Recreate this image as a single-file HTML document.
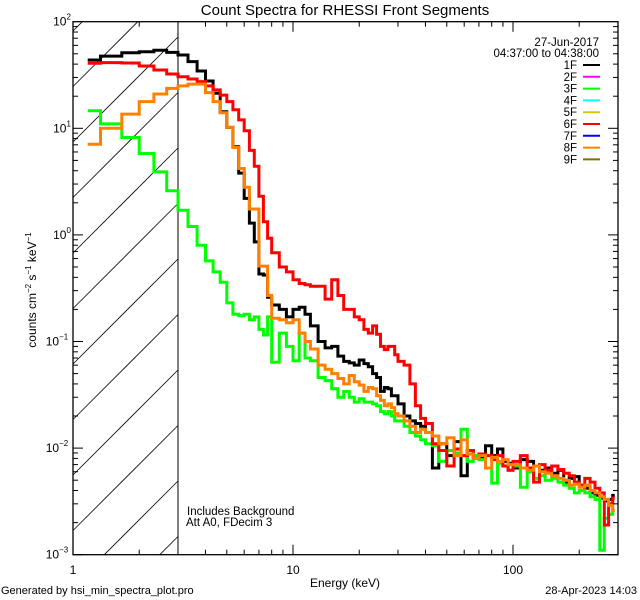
<!DOCTYPE html>
<html><head><meta charset="utf-8"><style>
html,body{margin:0;padding:0;background:#fff;width:640px;height:600px;overflow:hidden;position:relative;}
svg{display:block;position:absolute;left:0;top:0;font-family:"Liberation Sans",sans-serif;}
</style></head><body>
<svg id="chart" width="640" height="600" viewBox="0 0 640 600" xmlns="http://www.w3.org/2000/svg">
<rect width="640" height="600" fill="#fff"/>
<text x="345" y="15" font-size="15" text-anchor="middle">Count Spectra for RHESSI Front Segments</text>
<defs><clipPath id="plotclip"><rect x="73" y="21.7" width="545" height="533"/></clipPath></defs>
<g id="hatch"></g>
<line x1="178" y1="21.7" x2="178" y2="554.7" stroke="#000" stroke-width="1"/>
<g id="series" clip-path="url(#plotclip)"></g>
<rect x="73" y="21.7" width="545" height="533" fill="none" stroke="#000" stroke-width="1.3"/>
<g id="ticks"></g>
<text x="345" y="587" font-size="12" text-anchor="middle">Energy (keV)</text>
<text transform="translate(36,290) rotate(-90)" font-size="12" text-anchor="middle">counts cm<tspan dy="-5" font-size="8">−2</tspan><tspan dy="5"> s</tspan><tspan dy="-5" font-size="8">−1</tspan><tspan dy="5"> keV</tspan><tspan dy="-5" font-size="8">−1</tspan></text>
<text x="599" y="46" font-size="11.5" text-anchor="end">27-Jun-2017</text>
<text x="599" y="57" font-size="11.5" text-anchor="end">04:37:00 to 04:38:00</text>
<g id="legend"></g>
<text x="187" y="515" font-size="11.5">Includes Background</text>
<text x="186" y="526" font-size="11.5">Att A0, FDecim 3</text>
<text x="1" y="594" font-size="11">Generated by hsi_min_spectra_plot.pro</text>
<text x="637" y="594" font-size="11" text-anchor="end">28-Apr-2023 14:03</text>
</svg>
<script>
const energies = [1.0,1.333,1.667,2.0,2.333,2.667,3.0,3.333,3.667,4.0,4.333,4.667,5.0,5.333,5.667,6.0,6.333,6.667,7.0,7.333,7.667,
 8.0,8.667,9.333,10,10.667,11.333,
 12,13,14,15,16,17,18,19,20,21,22,23,24,25,26,27,28,29,30,32,34,36,38,
 40,43,46,50,54,58,62,66,70,75,80,85,90,95,
 100,108,116,124,132,140,150,160,170,180,190,200,212,224,236,248,260,272,284];
const upperEdge = 296;
const seg1F = [43.7,47.6,51.2,52.3,54,51.5,48.7,42.2,34.5,27.8,21.3,14.3,10.2,6.7,3.8,2.2,1.29,0.86,0.43,0.42,0.26,
 0.22,0.2,0.17,0.2,0.21,0.18,
 0.14,0.10,0.087,0.09,0.073,0.065,0.063,0.06,0.067,0.062,0.058,0.05,0.046,0.034,0.037,0.036,0.031,0.031,0.026,0.02,0.018,0.017,0.016,
 0.014,0.0065,0.011,0.0085,0.0115,0.0055,0.0095,0.0082,0.0082,0.0105,0.0085,0.0098,0.0075,0.0072,
 0.0065,0.0078,0.0075,0.0068,0.0062,0.0065,0.0058,0.0062,0.0048,0.0052,0.0054,0.0045,0.0042,0.0038,0.0036,0.0034,0.0032,0.0033,0.0036];
const seg3F = [14.6,11,8.2,5.8,3.9,2.6,1.7,1.2,0.8,0.57,0.45,0.36,0.23,0.18,0.175,0.18,0.16,0.17,0.13,0.115,0.17,
 0.064,0.12,0.09,0.066,0.12,0.07,
 0.066,0.046,0.043,0.036,0.03,0.034,0.03,0.027,0.029,0.027,0.027,0.026,0.025,0.022,0.021,0.022,0.02,0.018,0.018,0.016,0.014,0.013,0.012,
 0.011,0.0105,0.0075,0.0095,0.009,0.015,0.0075,0.0085,0.0078,0.0065,0.0047,0.0072,0.0068,0.0062,
 0.0068,0.0043,0.006,0.0052,0.0055,0.005,0.0052,0.0048,0.0045,0.0042,0.0038,0.004,0.0038,0.0035,0.0033,0.0011,0.0022,0.0024,0.0026];
const seg6F = [40.7,41.3,41,38.4,35.2,32.3,30.5,29,27.4,25,22.9,20.5,17.8,14.9,12,9.5,6.2,4.4,2.3,1.33,0.93,
 0.68,0.5,0.45,0.38,0.35,0.34,
 0.33,0.33,0.25,0.38,0.27,0.2,0.2,0.17,0.16,0.13,0.12,0.14,0.117,0.09,0.084,0.09,0.09,0.075,0.065,0.06,0.04,0.025,0.019,
 0.017,0.011,0.0095,0.0068,0.0098,0.0085,0.0095,0.008,0.0088,0.0085,0.0078,0.0085,0.0068,0.0062,
 0.0075,0.0085,0.0065,0.0048,0.007,0.0062,0.0068,0.0063,0.0058,0.0055,0.0048,0.0045,0.0052,0.0048,0.0042,0.0038,0.0019,0.003,0.0034];
const seg8F = [7.1,10,13.6,17.8,21,23.7,25,26,26,21.6,17.8,14,10.2,6.6,4.2,2.8,1.75,1.75,0.51,0.51,0.27,
 0.165,0.16,0.15,0.16,0.12,0.1,
 0.085,0.06,0.055,0.05,0.045,0.04,0.048,0.042,0.039,0.034,0.037,0.036,0.031,0.028,0.025,0.026,0.024,0.021,0.02,0.018,0.016,0.014,0.015,
 0.014,0.013,0.011,0.0125,0.0085,0.012,0.0088,0.008,0.0085,0.0065,0.0082,0.0075,0.0078,0.007,
 0.007,0.0065,0.0062,0.0068,0.006,0.0058,0.0055,0.0052,0.005,0.0045,0.0046,0.0043,0.0045,0.004,0.0038,0.0035,0.0033,0.0029,0.0026];
const legendLabels = ["1F","2F","3F","4F","5F","6F","7F","8F","9F"];
const legendColors = ["#000000","#ff00ff","#00ff00","#00ffff","#d8c800","#ff0000","#0000ff","#ff8000","#7f7000"];
const xTickValues = [1,10,100];
const xTickLabels = ["1","10","100"];
const yTickExps = [2,1,0,-1,-2,-3];

const NS = "http://www.w3.org/2000/svg";
const X0 = 73, XD = 220, YT = 21.7, YD = 106.6, YB = 554.7, XR = 618;
function xs(e){ return X0 + XD*Math.log10(e); }
function ys(v){ return YT + (2 - Math.log10(v))*YD; }
function mk(tag, attrs, parent){ const el=document.createElementNS(NS,tag); for(const k in attrs) el.setAttribute(k,attrs[k]); parent.appendChild(el); return el; }

// hatch lines, clipped analytically to the hatched rectangle
const hatch = document.getElementById('hatch');
const HX0 = 73, HX1 = 178;
for(let k=-3;k<12;k++){
  const c = 37 + k*55.5;           // y at x=HX1 ; line: y = c + (HX1 - x)
  let xa = HX0, ya = c + (HX1 - HX0);
  let xb = HX1, yb = c;
  if(ya > YB){ xa = HX1 - (YB - c); ya = YB; }
  if(yb < YT){ xb = HX1 - (YT - c); yb = YT; }
  if(xa >= xb) continue;
  const l = mk('line',{x1:xa.toFixed(1),y1:ya.toFixed(1),x2:xb.toFixed(1),y2:yb.toFixed(1),stroke:'#000','stroke-width':0.8},hatch);
  
  
}

const sg = document.getElementById('series');
function drawStep(vals, color, name){
  let d = "";
  for(let i=0;i<vals.length;i++){
    const lo = energies[i], hi = (i+1<energies.length)?energies[i+1]:upperEdge;
    const y = ys(vals[i]);
    const xa = (i===0) ? xs((lo+hi)/2) : xs(lo);
    const xb = (i===vals.length-1) ? xs((lo+hi)/2) : xs(hi);
    d += (i===0 ? "M"+xa.toFixed(1)+","+y.toFixed(1) : "L"+xa.toFixed(1)+","+y.toFixed(1)) + "L"+xb.toFixed(1)+","+y.toFixed(1);
  }
  const p = mk('path',{d:d,fill:'none',stroke:color,'stroke-width':3,'stroke-linejoin':'miter'},sg);
  
  
}
drawStep(seg1F,"#000000","series-1f");
drawStep(seg3F,"#00ff00","series-3f");
drawStep(seg6F,"#ff0000","series-6f");
drawStep(seg8F,"#ff8000","series-8f");

const tg = document.getElementById('ticks');
for(let dec=0; dec<3; dec++){
  for(let m=1;m<=9;m++){
    const e = m*Math.pow(10,dec);
    const x = xs(e); if(x>XR+0.5) continue;
    const len = (m===1)?10:5;
    const t1 = mk('line',{x1:x,y1:YB,x2:x,y2:YB-len,stroke:'#000','stroke-width':1},tg);
    
    
    const t2 = mk('line',{x1:x,y1:YT,x2:x,y2:YT+len,stroke:'#000','stroke-width':1},tg);
    
    
  }
}
xTickValues.forEach((v,i)=>{
  const t = mk('text',{x:xs(v),y:574,'font-size':12,'text-anchor':'middle'},tg);
  t.textContent = xTickLabels[i];
  
  
});
for(let ex=-3; ex<2; ex++){
  for(let m=1;m<=9;m++){
    const v = m*Math.pow(10,ex);
    const y = ys(v);
    const len = (m===1)?10:5;
    const a = mk('line',{x1:X0,y1:y,x2:X0+len,y2:y,stroke:'#000','stroke-width':1},tg);
    
    
    const b = mk('line',{x1:XR,y1:y,x2:XR-len,y2:y,stroke:'#000','stroke-width':1},tg);
    
    
  }
}
yTickExps.forEach(ex=>{
  const y = ys(Math.pow(10,ex));
  const t = mk('text',{x:ex<0?57:62,y:y+4,'font-size':12,'text-anchor':'middle'},tg);
  t.textContent = "10";
  const s = mk('tspan',{dy:-6,'font-size':8},t);
  s.textContent = ex<0 ? "−"+(-ex) : String(ex);
  
  
});

const lg = document.getElementById('legend');
legendLabels.forEach((lab,i)=>{
  const y = 65 + i*11.8;
  const g = mk('g',{},lg);
  
  
  const t = mk('text',{x:577,y:y+4,'font-size':11.5,'text-anchor':'end'},g);
  t.textContent = lab;
  mk('line',{x1:583,y1:y,x2:600,y2:y,stroke:legendColors[i],'stroke-width':2},g);
});
</script>
</body></html>
